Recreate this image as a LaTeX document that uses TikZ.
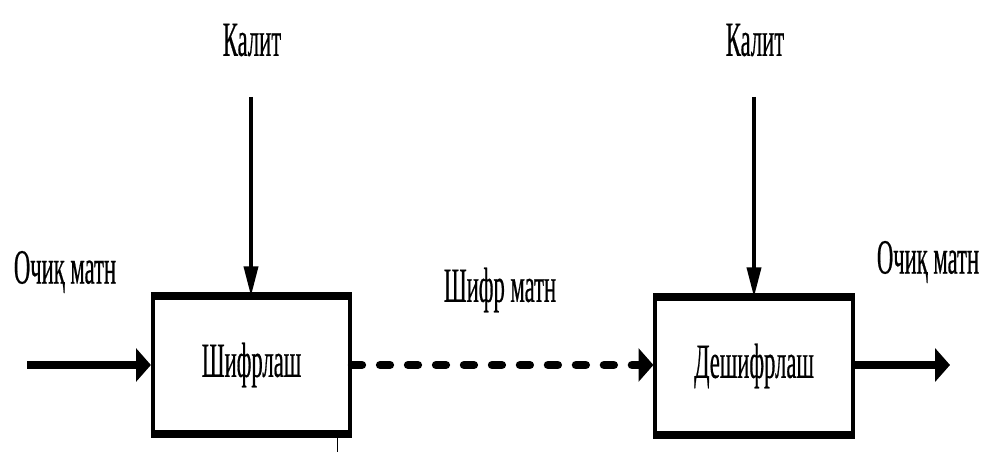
\documentclass[tikz,border=0pt]{standalone}
\usepackage{fontspec}
\newfontfamily\narrowserif{Liberation Serif}[FakeStretch=0.46, FakeBold=0.4]
\usetikzlibrary{arrows.meta}

\tikzset{
    lbl/.style={font=\narrowserif\fontsize{35}{40}\selectfont, inner sep=0pt},
    cipherbox/.style={draw, line width=2.8pt, minimum width=4.93cm, minimum height=3.35cm, inner sep=0pt},
    boxedge/.style={line width=5.7pt},
    keyline/.style={line width=2.4pt, -{Triangle[length=21pt, width=10pt]}},
    flowline/.style={line width=6pt, -{Triangle[length=10.6pt, width=23.4pt]}},
    cipherflow/.style={flowline, line cap=round, dash pattern=on 7pt off 12.9pt}
}

\begin{document}
\begin{tikzpicture}[x=0.025cm, y=-0.025cm]
    \useasboundingbox (0, 0) rectangle (987, 452);

    % boxes
    \node[cipherbox, lbl] (enc) at (251.5, 365) {Шифрлаш};
    \node[cipherbox, lbl] (dec) at (754, 366) {Дешифрлаш};
    \draw[boxedge] (enc.north west) -- (enc.north east);
    \draw[boxedge] (enc.south west) -- (enc.south east);
    \draw[boxedge] (dec.north west) -- (dec.north east);
    \draw[boxedge] (dec.south west) -- (dec.south east);

    % labels
    \node[lbl] (key1) at (252, 40) {Калит};
    \node[lbl] (key2) at (755, 40) {Калит};
    \node[lbl] (plainin) at (65, 272) {Очиқ матн};
    \node[lbl] (plainout) at (928, 262) {Очиқ матн};
    \node[lbl] (ciphertext) at (500, 290) {Шифр матн};

    % free ends
    \coordinate (keytop1) at (251, 97);
    \coordinate (keytop2) at (754, 97);
    \coordinate (instart) at (27, 365);
    \coordinate (outend) at (950, 365);
    \coordinate (tick) at (337, 452);

    % connectors
    \draw[keyline] (keytop1) -- (keytop1 |- enc.north);
    \draw[keyline] (keytop2) -- (keytop2 |- dec.north);
    \draw[flowline] (instart) -- (instart -| enc.west);
    \draw[cipherflow] (enc.east) -- (enc.east -| dec.west);
    \draw[flowline] (dec.east |- outend) -- (outend);
    \draw[line width=0.7pt] (tick |- enc.south) -- (tick);
\end{tikzpicture}
\end{document}
